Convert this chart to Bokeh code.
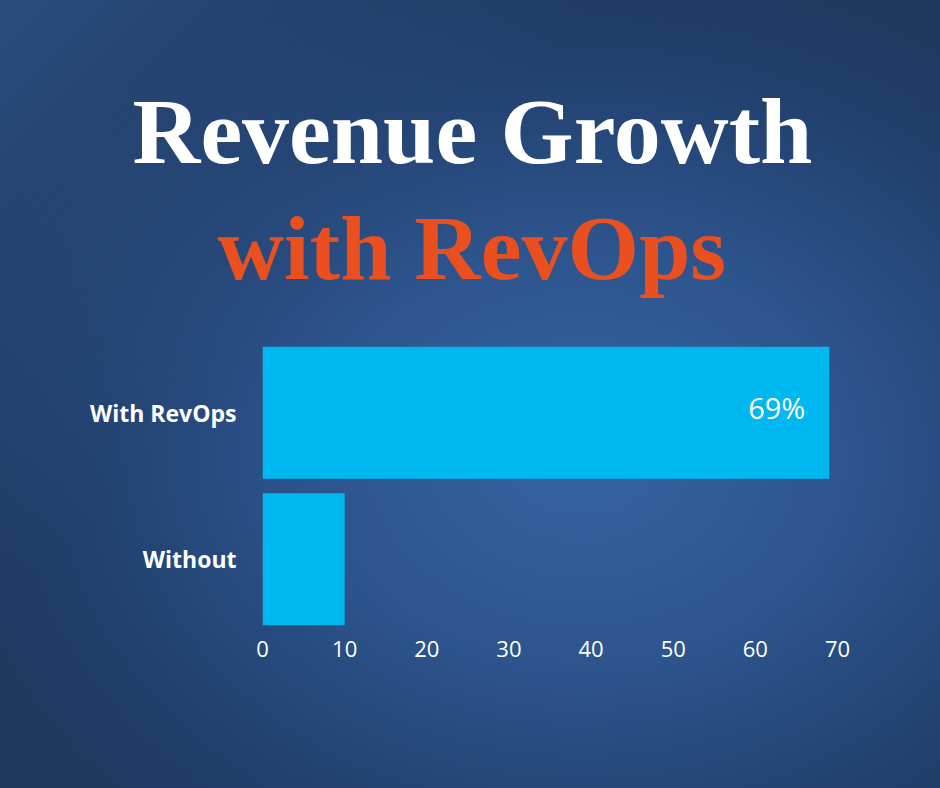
from bokeh.plotting import figure
from bokeh.models import FactorRange, Range1d, ColumnDataSource, Title, FixedTicker
from bokeh.core.properties import value
from bokeh.embed import file_html
from bokeh.resources import INLINE

# ---- data ----
categories = ["Without", "With RevOps"]   # bottom to top
growth = [10, 69]
tick_values = [0, 10, 20, 30, 40, 50, 60, 70]
labelled = ["With RevOps"]
title_line1 = "Revenue Growth"
title_line2 = "with RevOps"

# ---- layout (pixels) ----
W, H = 940, 788
F_LEFT, F_RIGHT, F_TOP, F_BOTTOM = 262, 837, 339, 632
X_MAX = 70

p = figure(
    width=W, height=H,
    y_range=FactorRange(factors=categories),
    x_range=Range1d(0, X_MAX),
    output_backend="svg", toolbar_location=None,
    min_border_left=F_LEFT, min_border_right=W - F_RIGHT,
    min_border_top=F_TOP, min_border_bottom=H - F_BOTTOM,
)
p.styles = {
    "background": (
        "linear-gradient(135deg, rgba(52,92,150,0.55) 0%, rgba(52,92,150,0) 35%), "
        "radial-gradient(ellipse 70% 65% at 62% 58%, #35649f 0%, #2d558e 40%, #22416f 75%, #1e375f 100%)"
    )
}
p.border_fill_alpha = 0
p.background_fill_alpha = 0
p.outline_line_color = None
p.grid.grid_line_color = None

src = ColumnDataSource(dict(cat=categories, val=growth))
p.hbar(y="cat", right="val", left=0, height=0.9, source=src,
       fill_color="#00b8f0", line_color=None)

lab_idx = [categories.index(c) for c in labelled]
lab_src = ColumnDataSource(dict(
    cat=[categories[i] for i in lab_idx],
    val=[growth[i] for i in lab_idx],
    txt=[f"{growth[i]}%" for i in lab_idx],
))
p.text(x="val", y="cat", text="txt", source=lab_src, x_offset=-24, y_offset=-5,
       text_align="right", text_baseline="middle", text_color="white",
       text_font=value("Open Sans"), text_font_size="29px")

# axes
xa = p.xaxis[0]
xa.ticker = FixedTicker(ticks=tick_values)
xa.axis_line_color = None
xa.major_tick_line_color = None
xa.minor_tick_line_color = None
xa.major_label_text_color = "white"
xa.major_label_text_font = "Open Sans"
xa.major_label_text_font_size = "22px"
xa.major_label_standoff = 2

ya = p.yaxis[0]
ya.axis_line_color = None
ya.major_tick_line_color = None
ya.minor_tick_line_color = None
ya.major_label_text_color = "white"
ya.major_label_text_font = "Open Sans"
ya.major_label_text_font_style = "bold"
ya.major_label_text_font_size = "23px"
ya.major_label_standoff = 20

# titles
p.add_layout(Title(text=title_line2, align="left", offset=-45, standoff=82,
                   text_color="#ea4f20", text_font="Liberation Serif",
                   text_font_style="bold", text_font_size="92px"), "above")
p.add_layout(Title(text=title_line1, align="left", offset=-130, standoff=-58,
                   text_color="white", text_font="Liberation Serif",
                   text_font_style="bold", text_font_size="94px"), "above")

open("out.html", "w").write(file_html(p, INLINE))
